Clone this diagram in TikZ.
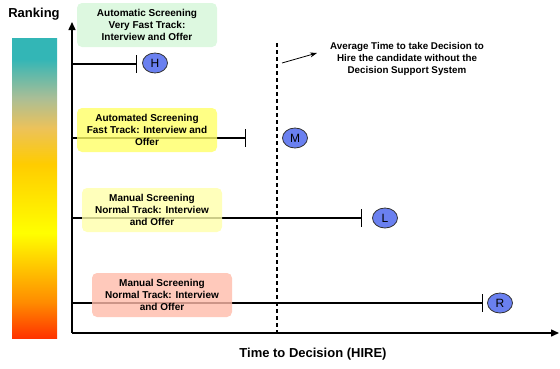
\documentclass[tikz,border=0pt]{standalone}
\usepackage{fontspec}
\setmainfont{Liberation Sans}
\usetikzlibrary{shapes.geometric,arrows.meta}

\newlength{\du}
\setlength{\du}{1pt}

\definecolor{fastgreen}{RGB}{212,246,216}
\definecolor{fastyellow}{RGB}{255,255,102}
\definecolor{paleyellow}{RGB}{255,255,170}
\definecolor{salmon}{RGB}{255,187,170}
\definecolor{dotblue}{RGB}{106,128,240}
\definecolor{rankteal}{RGB}{51,182,182}
\definecolor{ranksage}{RGB}{170,190,150}
\definecolor{ranktan}{RGB}{236,194,90}
\definecolor{rankgold}{RGB}{255,204,0}
\definecolor{rankyellow}{RGB}{255,255,0}
\definecolor{rankorange}{RGB}{255,140,0}
\definecolor{rankred}{RGB}{255,51,0}

\pgfdeclareverticalshading{rankbar}{100bp}{color(0bp)=(rankred); color(25bp)=(rankred); color(31bp)=(rankorange); color(42.5bp)=(rankyellow); color(54bp)=(rankgold); color(60bp)=(ranktan); color(65bp)=(ranksage); color(71.5bp)=(rankteal); color(100bp)=(rankteal)}

\begin{document}
\begin{tikzpicture}[
  trackbox/.style={rounded corners=5\du, minimum width=140\du, minimum height=44\du, inner sep=0pt, align=center, font=\bfseries\fontsize{10}{12}\selectfont, fill opacity=0.8, text opacity=1},
  rankdot/.style={ellipse, draw=black!80, line width=0.8\du, fill=dotblue, minimum width=25\du, minimum height=20\du, inner sep=0pt, font=\fontsize{12}{12}\selectfont},
  track/.style={line width=1.5\du, -{Bar[width=18pt]}},
  axis/.style={line width=1.5\du, -{Triangle[length=8pt,width=7pt]}}
]
\pgftransformxscale{1.000000}
\pgftransformyscale{-1.000000}
\useasboundingbox (0\du,0\du) rectangle (560\du,368\du);
% ranking scale
\shade[shading=rankbar] (12\du,38\du) rectangle (57\du,338\du);
\node[font=\bfseries\fontsize{13}{13}\selectfont] (ranking) at (34\du,14\du) {Ranking};
% axes
\coordinate (origin) at (72\du,333\du);
\coordinate (ytop) at (72\du,22\du);
\coordinate (xend) at (559\du,333\du);
\draw[axis] (origin) -- (ytop);
\draw[axis] (origin) -- (xend);
\node[font=\bfseries\fontsize{13}{13}\selectfont] (timelabel) at (313\du,354\du) {Time to Decision (HIRE)};
% average decision time
\coordinate (avgtop) at (277\du,43\du);
\coordinate (avgbot) at (277\du,333\du);
\draw[line width=1.2\du, dash pattern=on 4pt off 3pt] (avgtop) -- (avgbot);
\coordinate (notefrom) at (282\du,63\du);
\coordinate (noteto) at (317\du,53\du);
\draw[line width=0.8\du, -{Stealth[length=7pt,width=5pt]}] (notefrom) -- (noteto);
\node[align=center, font=\bfseries\fontsize{9.8}{12}\selectfont] (avgnote) at (407\du,59\du) {Average Time to take Decision to\\Hire the candidate without the\\Decision Support System};
% tracks
\coordinate (startH) at (72\du,64\du);
\coordinate (endH) at (137\du,64\du);
\coordinate (startM) at (72\du,138\du);
\coordinate (endM) at (246\du,138\du);
\coordinate (startL) at (72\du,218\du);
\coordinate (endL) at (362\du,218\du);
\coordinate (startR) at (72\du,303\du);
\coordinate (endR) at (483\du,303\du);
\draw[track] (startH) -- (endH);
\draw[track] (startM) -- (endM);
\draw[track] (startL) -- (endL);
\draw[track] (startR) -- (endR);
\node[trackbox, fill=fastgreen] (boxH) at (147\du,25\du) {Automatic Screening\\Very Fast Track:\\Interview and Offer};
\node[trackbox, fill=fastyellow] (boxM) at (147\du,130\du) {Automated Screening\\Fast Track: Interview and\\Offer};
\node[trackbox, fill=paleyellow] (boxL) at (152\du,210\du) {Manual Screening\\Normal Track: Interview\\and Offer};
\node[trackbox, fill=salmon] (boxR) at (162\du,295\du) {Manual Screening\\Normal Track: Interview\\and Offer};
\node[rankdot] (H) at (155\du,63\du) {H};
\node[rankdot] (M) at (295\du,138\du) {M};
\node[rankdot] (L) at (385\du,218\du) {L};
\node[rankdot] (R) at (500\du,303\du) {R};
\end{tikzpicture}
\end{document}
